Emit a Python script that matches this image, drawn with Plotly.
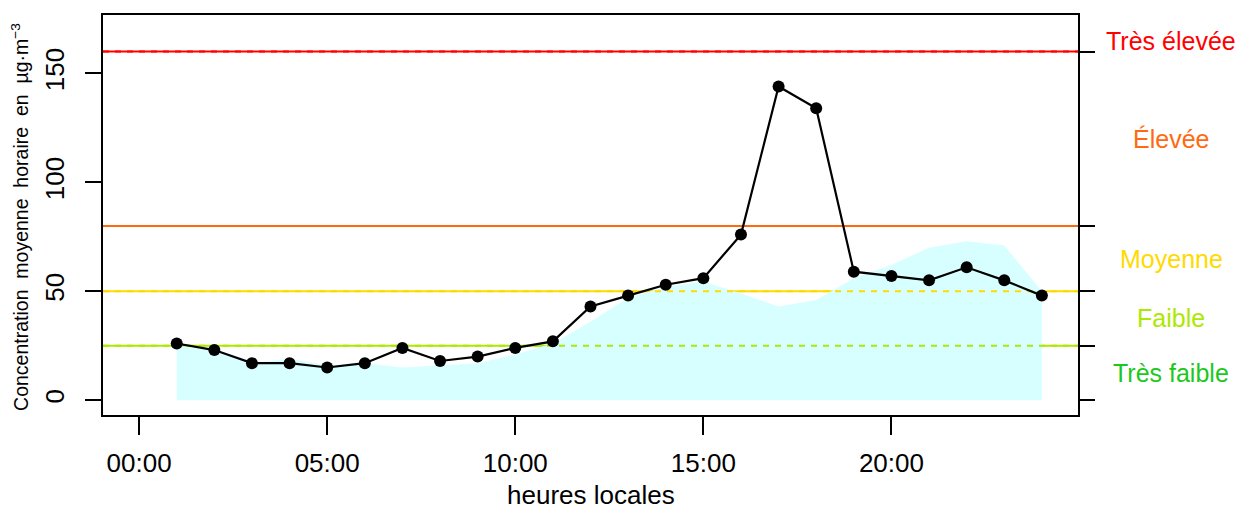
import plotly.graph_objects as go

# ---- data ----
hours = list(range(1, 25))
concentration = [26, 23, 17, 17, 15, 17, 24, 18, 20, 24, 27, 43, 48, 53, 56, 76,
                 144, 134, 59, 57, 55, 61, 55, 48]
reference_area = [25, 23, 17, 19, 16, 17, 15, 16, 17, 21, 26, 36, 47, 52, 54.5, 49,
                  43, 46, 56, 62, 70, 73, 71, 50]

x_tick_vals = [0, 5, 10, 15, 20]
x_tick_text = ["00:00", "05:00", "10:00", "15:00", "20:00"]
y_tick_vals = [0, 50, 100, 150]

thresholds = [25, 50, 80, 160]
threshold_colors = ["#ADE800", "#FFDA00", "#FF6A10", "#FF0000"]
band_bounds = [0, 25, 50, 80, 160, 170]
band_names = ["Très faible", "Faible", "Moyenne", "Élevée", "Très élevée"]
band_colors = ["#1DC81D", "#ADE800", "#FFDA00", "#FF6A10", "#FF0000"]

X_RANGE = [-0.96, 24.96]
Y_RANGE = [-6.8, 176.8]
FONT = "Liberation Sans"
AREA_COLOR = "#D8FFFF"

fig = go.Figure()

# solid threshold lines (below area)
for t, c in zip(thresholds, threshold_colors):
    fig.add_trace(go.Scatter(x=X_RANGE, y=[t, t], mode="lines",
                             line=dict(color=c, width=2), showlegend=False,
                             hoverinfo="skip"))

# reference area
fig.add_trace(go.Scatter(x=hours, y=reference_area, mode="lines", fill="tozeroy",
                         fillcolor=AREA_COLOR, line=dict(width=0, color=AREA_COLOR),
                         showlegend=False))

# dashed threshold lines (over area)
for t, c in zip(thresholds, threshold_colors):
    fig.add_trace(go.Scatter(x=X_RANGE, y=[t, t], mode="lines",
                             line=dict(color=c, width=2, dash="6px,6px"),
                             showlegend=False, hoverinfo="skip"))

# concentration line
fig.add_trace(go.Scatter(x=hours, y=concentration, mode="lines+markers",
                         line=dict(color="black", width=2.2),
                         marker=dict(color="black", size=12),
                         showlegend=False))

# invisible trace on yaxis2 to activate it
fig.add_trace(go.Scatter(x=[hours[0]], y=[concentration[0]], yaxis="y2",
                         mode="markers", marker=dict(opacity=0),
                         showlegend=False, hoverinfo="skip"))

# band labels on right
for i, name in enumerate(band_names):
    mid = (band_bounds[i] + band_bounds[i + 1]) / 2
    fig.add_annotation(x=1.0955, xref="paper", y=mid, yref="y", text=name,
                       showarrow=False, xanchor="center", yanchor="middle",
                       font=dict(family=FONT, size=25, color=band_colors[i]))

# axis titles
fig.add_annotation(x=0.5, xref="paper", y=-0.2, yref="paper",
                   text="heures locales", showarrow=False,
                   xanchor="center", yanchor="middle",
                   font=dict(family=FONT, size=26, color="black"))
fig.add_annotation(x=-0.0852, xref="paper", y=0.495, yref="paper",
                   text="Concentration  moyenne  horaire  en  µg·m<sup>−3</sup>",
                   textangle=-90, showarrow=False,
                   xanchor="center", yanchor="middle",
                   font=dict(family=FONT, size=19.5, color="black"))

fig.update_layout(
    width=1236, height=501,
    margin=dict(l=95, r=166, t=5, b=94),
    paper_bgcolor="white", plot_bgcolor="white",
    font=dict(family=FONT, size=26, color="black"),
    xaxis=dict(range=X_RANGE, tickvals=x_tick_vals, ticktext=x_tick_text,
               showgrid=False, zeroline=False, showline=True, mirror=True,
               linecolor="black", linewidth=1.5, ticks="outside", ticklen=18,
               tickwidth=1.5, tickcolor="black", ticklabelstandoff=6,
               tickfont=dict(family=FONT, size=26)),
    yaxis=dict(range=Y_RANGE, tickvals=y_tick_vals, showgrid=False,
               zeroline=False, showline=True, mirror=True, linecolor="black",
               linewidth=1.5, ticks="outside", ticklen=16, tickwidth=1.5,
               tickcolor="black", tickangle=-90, ticklabelstandoff=11,
               tickfont=dict(family=FONT, size=26)),
    yaxis2=dict(range=Y_RANGE, overlaying="y", side="right",
                tickvals=band_bounds[:-1] + [thresholds[-1]], showticklabels=False,
                showgrid=False, zeroline=False, showline=False,
                ticks="outside", ticklen=16, tickwidth=1.5, tickcolor="black"),
)

fig.write_html("out.html")
